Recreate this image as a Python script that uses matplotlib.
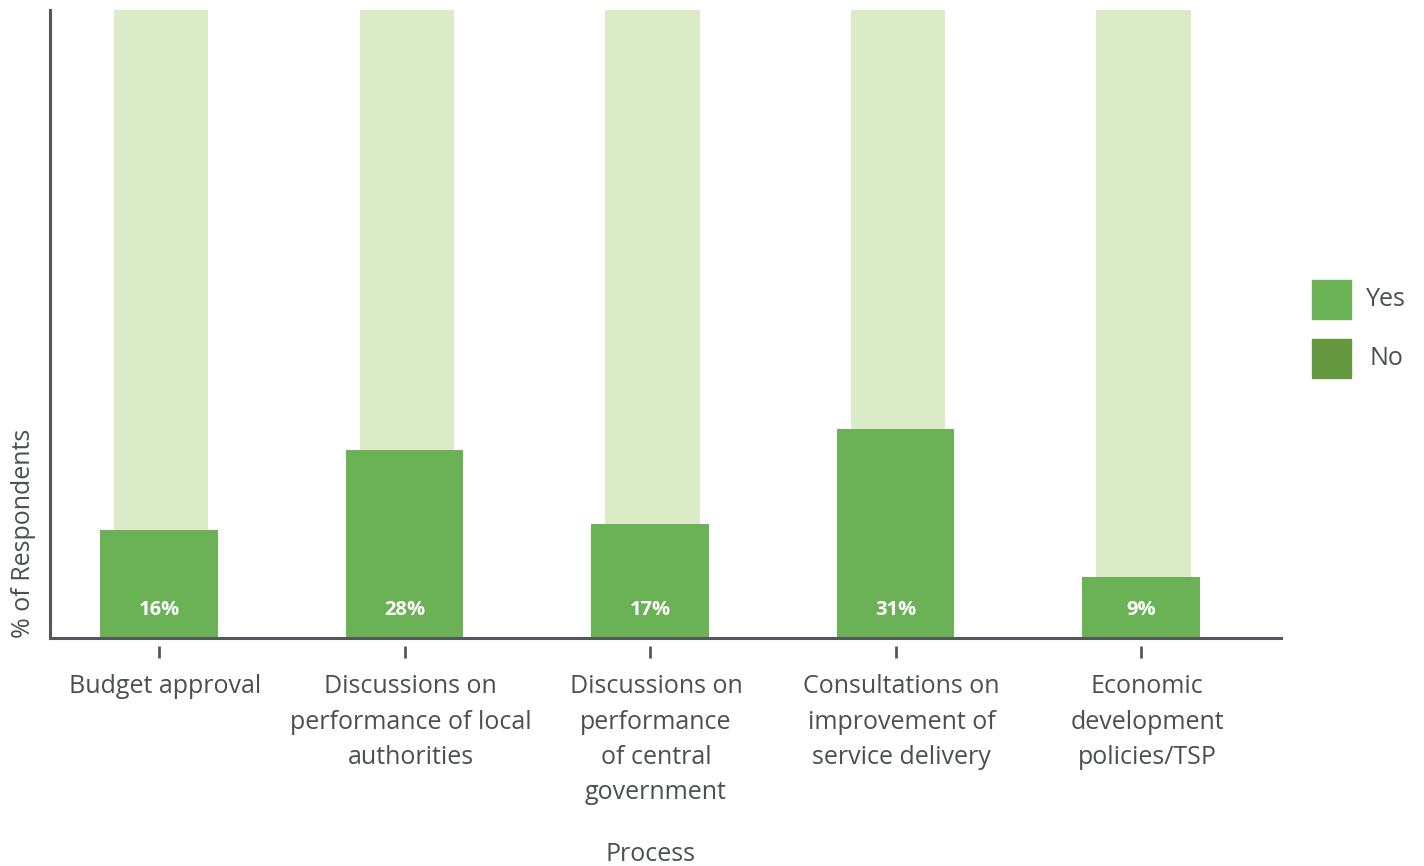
import matplotlib
matplotlib.use("Agg")
import matplotlib.pyplot as plt
import matplotlib.transforms as mtransforms
from matplotlib.patches import Rectangle

plt.rcParams["font.family"] = ["Open Sans", "DejaVu Sans"]

categories = [
    "Budget approval",
    "Discussions on\nperformance of local\nauthorities",
    "Discussions on\nperformance\nof central\ngovernment",
    "Consultations on\nimprovement of\nservice delivery",
    "Economic\ndevelopment\npolicies/TSP",
]
yes_pct = [16, 28, 17, 31, 9]
no_pct = [100 - v for v in yes_pct]
series_names = ["Yes", "No"]

YES_COLOR = "#6bb155"
NO_COLOR = "#66993f"
NO_FILL = "#dbebc8"
TEXT = "#4b4e53"
AXIS = "#54575c"
FS = 18

fig = plt.figure(figsize=(14.24, 8.66), dpi=100)
ax = fig.add_axes([50 / 1424, 228 / 866, 1231 / 1424, 628 / 866])

x = list(range(len(categories)))
ax.bar([xi + 0.01 for xi in x], no_pct, bottom=yes_pct, width=0.383,
       color=NO_FILL, zorder=1)
ax.bar(x, yes_pct, width=0.48, color=YES_COLOR, zorder=2)

for xi, v in zip(x, yes_pct):
    ax.annotate(f"{v}%", (xi, 0), xytext=(0, 20.5), textcoords="offset points",
                ha="center", va="center", color="white", fontsize=14.5,
                fontweight="bold", zorder=3)

ax.set_xlim(-0.444, 4.57)
ax.set_ylim(0, 93.3)

for side in ("top", "right"):
    ax.spines[side].set_visible(False)
for side in ("left", "bottom"):
    ax.spines[side].set_color(AXIS)
    ax.spines[side].set_linewidth(2.2)

ax.set_yticks([])
ax.set_xticks(x)
ax.set_xticklabels(categories, fontsize=FS, color=TEXT, linespacing=1.55,
                   ha="center")
ax.tick_params(axis="x", length=0, pad=26)
shift = mtransforms.ScaledTranslation(6 / 100, 0, fig.dpi_scale_trans)
for lbl in ax.get_xticklabels():
    lbl.set_transform(lbl.get_transform() + shift)

# detached tick marks below the axis line
tick_tr = ax.get_xaxis_transform()
ax.plot(x, [-0.023] * len(x), linestyle="none", marker="|", markersize=9,
        markeredgewidth=2, color=AXIS, transform=tick_tr, clip_on=False)

ax.set_ylabel("% of Respondents", loc="bottom", fontsize=FS, color=TEXT,
              labelpad=10)
ax.text(2, -0.344, "Process", transform=tick_tr, ha="center", va="center",
        fontsize=FS, color=TEXT)

# legend
for i, (name, col) in enumerate(zip(series_names, [YES_COLOR, NO_COLOR])):
    top = 280 + i * 59
    fig.add_artist(Rectangle((1312 / 1424, 1 - (top + 39) / 866), 39 / 1424,
                             39 / 866, transform=fig.transFigure,
                             color=col))
    fig.text(1386 / 1424, 1 - (top + 19) / 866, name, ha="center",
             va="center", fontsize=FS, color=TEXT)

fig.savefig("out.png", dpi=100)
